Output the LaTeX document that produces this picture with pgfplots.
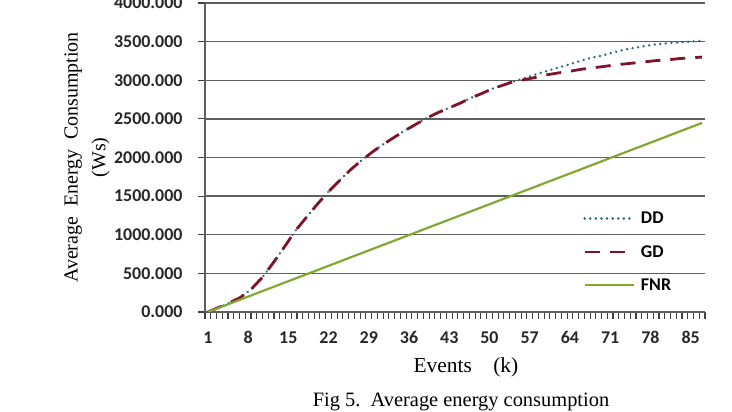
\documentclass[border=0pt]{standalone}
\usepackage{fontspec}
\setmainfont{Liberation Serif}
\newfontfamily\carlito{Carlito}
\usepackage{pgfplots}
\pgfplotsset{compat=1.18}
\definecolor{ddcol}{RGB}{45,105,130}
\definecolor{gdcol}{RGB}{125,20,40}
\definecolor{fnrcol}{RGB}{130,168,50}
\definecolor{gridcol}{RGB}{95,95,95}
\begin{document}
\begin{tikzpicture}
\begin{axis}[
  at={(205bp,100bp)}, anchor=south west,
  width=500bp, height=309bp, scale only axis,
  xmin=0.5, xmax=87.5, ymin=0, ymax=4000,
  axis x line=bottom, axis y line=left,
  axis line style={-, gridcol, line width=1.2bp},
  tick align=outside,
  major tick length=7bp, minor tick length=7bp,
  xtick={1,8,15,22,29,36,43,50,57,64,71,78,85},
  minor xtick={0.5,1.5,2.5,3.5,4.5,5.5,6.5,7.5,8.5,9.5,10.5,11.5,12.5,13.5,14.5,15.5,16.5,17.5,18.5,19.5,
    20.5,21.5,22.5,23.5,24.5,25.5,26.5,27.5,28.5,29.5,30.5,31.5,32.5,33.5,34.5,35.5,36.5,37.5,38.5,39.5,
    40.5,41.5,42.5,43.5,44.5,45.5,46.5,47.5,48.5,49.5,50.5,51.5,52.5,53.5,54.5,55.5,56.5,57.5,58.5,59.5,
    60.5,61.5,62.5,63.5,64.5,65.5,66.5,67.5,68.5,69.5,70.5,71.5,72.5,73.5,74.5,75.5,76.5,77.5,78.5,79.5,
    80.5,81.5,82.5,83.5,84.5,85.5,86.5,87.5},
  xtick style={draw=black!75, line width=1.1bp},
  ytick style={draw=black!75, line width=1.1bp},
  major x tick style={draw=none},
  ytick={0,500,...,4000},
  ymajorgrids, grid style={gridcol, line width=1.3bp},
  /pgf/number format/assume math mode=true,
  ticklabel style={font=\carlito\bfseries\fontsize{18}{20}\selectfont, text=black!85},
  xticklabel style={yshift=-9bp},
  yticklabel style={xshift=-12bp, /pgf/number format/.cd, fixed, fixed zerofill, precision=3, 1000 sep={}},
  xlabel={Events\quad(k)},
  xlabel style={at={(axis description cs:0.522,-0.178)}, anchor=center, font=\fontsize{21.5}{23}\selectfont},
  ylabel={Average\ \ Energy\ \ Consumption\\(Ws)},
  ylabel style={at={(axis description cs:-0.236,0.5)}, anchor=center, align=center, font=\fontsize{20}{28}\selectfont},
  legend style={at={(rel axis cs:0.756,0.33)}, anchor=north west, draw=none, fill=none, inner sep=0pt,
    font=\carlito\bfseries\fontsize{18}{20}\selectfont, row sep=16bp,
    /tikz/every odd column/.style={column sep=4bp}},
  legend cell align=left,
  legend image code/.code={\draw[#1] (0bp,0bp) -- (49bp,0bp);},
]
\addplot[ddcol, line width=2.6bp, line cap=round, dash pattern=on 0.1bp off 5.5bp] coordinates {
(1,0) (2.9,60) (4.8,120) (6.7,190) (8.6,300) (10.5,450) (12.4,640) (14.3,840) (16.2,1050) (18.2,1230)
(20.1,1400) (22.0,1560) (23.9,1700) (25.8,1840) (27.7,1960) (29.6,2070) (31.5,2170) (33.4,2260) (35.3,2350)
(37.2,2430) (39.1,2510) (41.0,2580) (42.9,2640) (44.8,2700) (46.7,2770) (48.7,2830) (50.5,2890) (52.5,2940)
(54.4,2990) (56.3,3030) (58.2,3080) (60.0,3120) (62.0,3165) (63.9,3205) (65.8,3250) (67.7,3290) (69.6,3320)
(71.5,3360) (73.4,3395) (75.3,3420) (77.2,3445) (79.1,3465) (81.1,3480) (83.0,3490) (84.9,3500) (87,3510)
};
\addlegendentry{DD}
\addplot[gdcol, line width=2.8bp, dash pattern=on 15bp off 10bp] coordinates {
(1,0) (2.9,60) (4.8,120) (6.7,190) (8.6,300) (10.5,450) (12.4,640) (14.3,840) (16.2,1050) (18.2,1230)
(20.1,1400) (22.0,1560) (23.9,1700) (25.8,1840) (27.7,1960) (29.6,2070) (31.5,2170) (33.4,2260) (35.3,2350)
(37.2,2430) (39.1,2510) (41.0,2580) (42.9,2640) (44.8,2700) (46.7,2770) (48.7,2830) (50.5,2890) (52.5,2940)
(54.4,2990) (56.3,3010) (58.2,3040) (60.0,3070) (62.0,3095) (63.9,3115) (65.8,3140) (67.7,3160) (69.6,3175)
(71.5,3195) (73.4,3210) (75.3,3225) (77.2,3240) (79.1,3255) (81.1,3265) (83.0,3280) (84.9,3290) (87,3300)
};
\addlegendentry{GD}
\addplot[fnrcol, line width=2.2bp] coordinates {
(1,0) (6,142) (11,285) (16,427) (21,569) (26,712) (31,854) (36,996) (41,1139) (46,1281)
(51,1423) (56,1566) (61,1708) (66,1850) (71,1993) (76,2135) (81,2277) (86,2420) (87,2448)
};
\addlegendentry{FNR}
\end{axis}
\node[font=\fontsize{20.5}{22}\selectfont] at (461bp,10bp) {Fig 5.\ \ Average energy consumption};
\pgfresetboundingbox
\path[use as bounding box] (0,0) rectangle (732bp,412bp);
\end{tikzpicture}
\end{document}
